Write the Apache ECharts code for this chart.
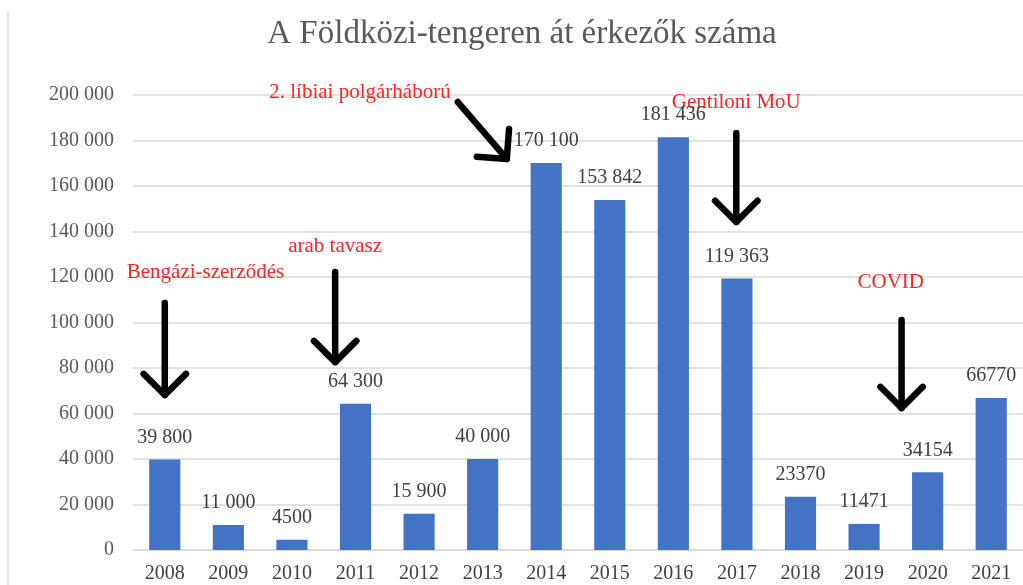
<!DOCTYPE html>
<html>
<head>
<meta charset="utf-8">
<script src="https://cdn.jsdelivr.net/npm/echarts@6/dist/echarts.min.js"></script>
<style>
  html, body { margin: 0; padding: 0; background: #fff; }
  #chart { width: 1023px; height: 585px; }
</style>
</head>
<body>
<div id="chart"></div>
<script>
  const years = ['2008', '2009', '2010', '2011', '2012', '2013', '2014', '2015', '2016', '2017', '2018', '2019', '2020', '2021']
  const arrivals = [39800, 11000, 4500, 64300, 15900, 40000, 170100, 153842, 181436, 119363, 23370, 11471, 34154, 66770]
  const valueLabels = ['39 800', '11 000', '4500', '64 300', '15 900', '40 000', '170 100', '153 842', '181 436', '119 363', '23370', '11471', '34154', '66770']
  const yTicks = ['0', '20 000', '40 000', '60 000', '80 000', '100 000', '120 000', '140 000', '160 000', '180 000', '200 000']

  // annotations: text anchor + arrow (from -> to), in category index / value units
  const notes = [
    { text: 'Bengázi-szerződés', at: [0.64, 122200], from: [0, 108600], to: [0, 68100] },
    { text: 'arab tavasz', at: [2.68, 133200], from: [2.68, 122200], to: [2.68, 82600] },
    { text: '2. líbiai polgárháború', at: [3.07, 201300], from: [4.61, 196900], to: [5.38, 171900] },
    { text: 'Gentiloni MoU', at: [8.99, 196500], from: [8.99, 183300], to: [8.99, 144200] },
    { text: 'COVID', at: [11.42, 117400], from: [11.59, 101100], to: [11.59, 62400] }
  ]

  const serif = '"Liberation Serif", "DejaVu Serif", serif'
  const myChart = echarts.init(document.getElementById('chart'))

  const option = {
    animation: false,
    title: {
      text: 'A Földközi-tengeren át érkezők száma',
      left: 517,
      top: 13,
      textAlign: 'center',
      textStyle: {
        fontFamily: serif,
        fontWeight: 'normal',
        fontSize: 33,
        color: '#595959'
      }
    },
    grid: {
      left: 133,
      right: 0,
      top: 95,
      bottom: 35,
      containLabel: false
    },
    xAxis: {
      type: 'category',
      data: years,
      axisLine: { lineStyle: { color: '#d9d9d9', width: 1.5 } },
      axisTick: { show: false },
      axisLabel: {
        fontFamily: serif,
        fontSize: 20,
        color: '#404040',
        margin: 14
      }
    },
    yAxis: {
      type: 'value',
      min: 0,
      max: 200000,
      interval: 20000,
      axisLine: { show: false },
      axisTick: { show: false },
      splitLine: { lineStyle: { color: '#d9d9d9', width: 1.5 } },
      axisLabel: {
        fontFamily: serif,
        fontSize: 20,
        color: '#595959',
        margin: 19,
        formatter: v => yTicks[Math.round(v / 20000)]
      }
    },
    series: [{
      type: 'bar',
      data: arrivals,
      barWidth: '49%',
      itemStyle: { color: '#4472C4' },
      label: {
        show: true,
        position: 'top',
        distance: 12,
        fontFamily: serif,
        fontSize: 20,
        color: '#404040',
        formatter: p => valueLabels[p.dataIndex]
      }
    }]
  }
  myChart.setOption(option)

  // place annotations through the axes' own scales
  function px(pt) {
    const x0 = myChart.convertToPixel({ xAxisIndex: 0 }, 0)
    const x1 = myChart.convertToPixel({ xAxisIndex: 0 }, 1)
    const y = myChart.convertToPixel({ yAxisIndex: 0 }, pt[1])
    return [x0 + (x1 - x0) * pt[0], y]
  }

  const graphics = [{
    type: 'line',
    shape: { x1: 8, y1: 12, x2: 8, y2: 585 },
    style: { stroke: '#d9d9d9', lineWidth: 1.5 }
  }]
  notes.forEach(n => {
    const t = px(n.at)
    const a = px(n.from)
    const b = px(n.to)
    const ang = Math.atan2(a[1] - b[1], a[0] - b[0])
    const len = 30
    const w1 = [b[0] + len * Math.cos(ang + Math.PI / 4), b[1] + len * Math.sin(ang + Math.PI / 4)]
    const w2 = [b[0] + len * Math.cos(ang - Math.PI / 4), b[1] + len * Math.sin(ang - Math.PI / 4)]
    graphics.push({
      type: 'text',
      x: t[0],
      y: t[1],
      style: {
        text: n.text,
        fontFamily: 'Liberation Serif',
        fontSize: 21,
        fill: '#ff2222',
        align: 'center',
        verticalAlign: 'middle'
      }
    })
    graphics.push({
      type: 'polyline',
      shape: { points: [a, b] },
      style: { stroke: '#000', lineWidth: 6.5, lineCap: 'round', fill: null }
    })
    graphics.push({
      type: 'polyline',
      shape: { points: [w1, b, w2] },
      style: { stroke: '#000', lineWidth: 6.5, lineCap: 'round', lineJoin: 'round', fill: null }
    })
  })
  myChart.setOption({ graphic: graphics })
</script>
</body>
</html>
